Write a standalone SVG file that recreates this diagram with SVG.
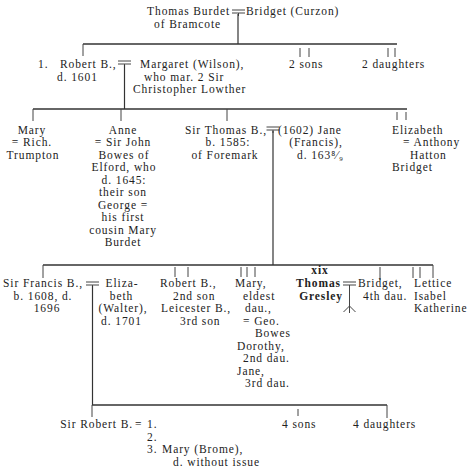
<svg xmlns="http://www.w3.org/2000/svg" xmlns:xlink="http://www.w3.org/1999/xlink" width="469" height="470" viewBox="0 0 469 470">
<style>
  text { font-family: "Liberation Serif", "DejaVu Serif", serif; font-size: 11.5px; letter-spacing: 0.9px; fill: #222; }
  .m { text-anchor: middle; }
  .e { text-anchor: end; }
  .b { font-weight: bold; }
  .ln { stroke: #333; stroke-width: 1.2; fill: none; }
  .hl { stroke: #333; stroke-width: 1.5; fill: none; }
  .tk { stroke: #444; stroke-width: 1; fill: none; }
</style>
<defs>
  <g id="marr">
    <path class="tk" d="M-6.5 0 H6.5 M-6.5 3 H6.5 M0 3 V6"/>
  </g>
</defs>
<rect width="469" height="470" fill="#fff"/>

<g id="connectors">
  <use xlink:href="#marr" href="#marr" x="238.5" y="10"/>
  <path class="ln" d="M238 14 V44"/>
  <path class="hl" d="M83 44 H397"/>
  <path class="tk" d="M83 44 V56 M300 48 V57 M309 48 V57 M388 48 V57 M395 48 V57"/>

  <use xlink:href="#marr" href="#marr" x="124.5" y="61"/>
  <path class="ln" d="M124.5 65 V109"/>
  <path class="hl" d="M33 109 H407"/>
  <path class="tk" d="M33 109 V121 M121 109 V121 M227 109 V121 M397 112 V120 M406 112 V120"/>

  <use xlink:href="#marr" href="#marr" x="273" y="127"/>
  <path class="ln" d="M273 131 V265"/>
  <path class="hl" d="M43 265 H433"/>
  <path class="tk" d="M43 265 V278 M175 267 V277 M188 267 V277 M241 267 V277 M247 267 V277 M255 267 V277 M380 267 V280 M413 267 V278 M420 267 V278 M433 265 V278"/>

  <use xlink:href="#marr" href="#marr" x="92.5" y="282"/>
  <path class="ln" d="M92.5 286 V405"/>
  <use xlink:href="#marr" href="#marr" x="349.5" y="282"/>
  <path class="tk" d="M349.5 286 V313 M343.5 312 L349.5 306 L355.5 312"/>

  <path class="hl" d="M92 405 H387"/>
  <path class="tk" d="M92 405 V417 M298 409 V416 M387 405 V418"/>
</g>

<g id="thomas-burdet">
  <text class="e" x="230" y="15">Thomas Burdet</text>
  <text x="154" y="27.5">of Bramcote</text>
</g>
<g id="bridget-curzon">
  <text x="246" y="15">Bridget (Curzon)</text>
</g>

<g id="robert-b">
  <text x="38" y="68">1.</text>
  <text x="60" y="68">Robert B.,</text>
  <text x="57" y="80.5">d. 1601</text>
</g>
<g id="margaret-wilson">
  <text x="140" y="68">Margaret (Wilson),</text>
  <text x="144" y="80.5">who mar. 2  Sir</text>
  <text x="133" y="93">Christopher Lowther</text>
</g>
<g id="two-sons"><text x="289" y="68">2 sons</text></g>
<g id="two-daughters"><text x="362" y="68">2 daughters</text></g>

<g id="mary">
  <text class="m" x="32" y="133.5">Mary</text>
  <text class="m" x="32" y="146">= Rich.</text>
  <text class="m" x="33" y="158.5">Trumpton</text>
</g>
<g id="anne">
  <text class="m" x="123" y="133.5">Anne</text>
  <text class="m" x="123" y="146">= Sir John</text>
  <text class="m" x="124" y="158.5">Bowes of</text>
  <text class="m" x="124" y="171">Elford, who</text>
  <text class="m" x="124" y="183.5">d. 1645:</text>
  <text class="m" x="123" y="196">their son</text>
  <text class="m" x="123" y="208.5">George =</text>
  <text class="m" x="123" y="221">his first</text>
  <text class="m" x="123" y="233.5">cousin Mary</text>
  <text class="m" x="123" y="246">Burdet</text>
</g>
<g id="sir-thomas-b">
  <text class="e" x="267" y="133.5">Sir Thomas B.,</text>
  <text class="m" x="228" y="146">b. 1585:</text>
  <text class="m" x="225" y="158.5">of Foremark</text>
</g>
<g id="jane-francis">
  <text x="278" y="133.5">(1602) Jane</text>
  <text class="m" x="316" y="146">(Francis),</text>
  <text x="297" y="158.5">d. 163⁸⁄₉</text>
</g>
<g id="elizabeth-bridget">
  <text x="392" y="133.5">Elizabeth</text>
  <text x="403" y="146">= Anthony</text>
  <text x="410" y="158.5">Hatton</text>
  <text x="392" y="171">Bridget</text>
</g>

<g id="sir-francis-b">
  <text class="m" x="43" y="287">Sir Francis B.,</text>
  <text class="m" x="43" y="299.5">b. 1608, d.</text>
  <text class="m" x="47" y="312">1696</text>
</g>
<g id="elizabeth-walter">
  <text class="m" x="122" y="287">Eliza-</text>
  <text class="m" x="121.5" y="299.5">beth</text>
  <text class="m" x="123" y="312">(Walter),</text>
  <text class="m" x="121.5" y="324.5">d. 1701</text>
</g>
<g id="robert-leicester">
  <text x="160" y="287">Robert B.,</text>
  <text x="173" y="299.5">2nd son</text>
  <text x="161" y="312">Leicester B.,</text>
  <text x="180" y="324.5">3rd son</text>
</g>
<g id="mary-dorothy-jane">
  <text x="235" y="287">Mary,</text>
  <text x="243" y="299.5">eldest</text>
  <text x="245" y="312">dau.,</text>
  <text x="243" y="324.5">= Geo.</text>
  <text x="255" y="337">Bowes</text>
  <text x="237" y="349.5">Dorothy,</text>
  <text x="243" y="362">2nd dau.</text>
  <text x="237" y="374.5">Jane,</text>
  <text x="245" y="387">3rd dau.</text>
</g>
<g id="thomas-gresley">
  <text class="m b" x="320" y="274" font-size="10">xix</text>
  <text class="e b" x="341" y="287">Thomas</text>
  <text class="e b" x="343" y="299.5">Gresley</text>
</g>
<g id="bridget-4th">
  <text x="358" y="287">Bridget,</text>
  <text x="363" y="299.5">4th dau.</text>
</g>
<g id="lettice-isabel-katherine">
  <text x="414" y="287">Lettice</text>
  <text x="414" y="299.5">Isabel</text>
  <text x="414" y="312">Katherine</text>
</g>

<g id="sir-robert-b">
  <text class="e" x="133" y="428">Sir Robert B.</text>
  <text x="135" y="428">=</text>
  <text x="147" y="428">1.</text>
  <text x="147" y="440.5">2.</text>
  <text x="147" y="453">3.</text>
  <text x="162" y="453">Mary (Brome),</text>
  <text x="173" y="465.5">d. without issue</text>
</g>
<g id="four-sons"><text x="282" y="428">4 sons</text></g>
<g id="four-daughters"><text x="353" y="428">4 daughters</text></g>
</svg>
